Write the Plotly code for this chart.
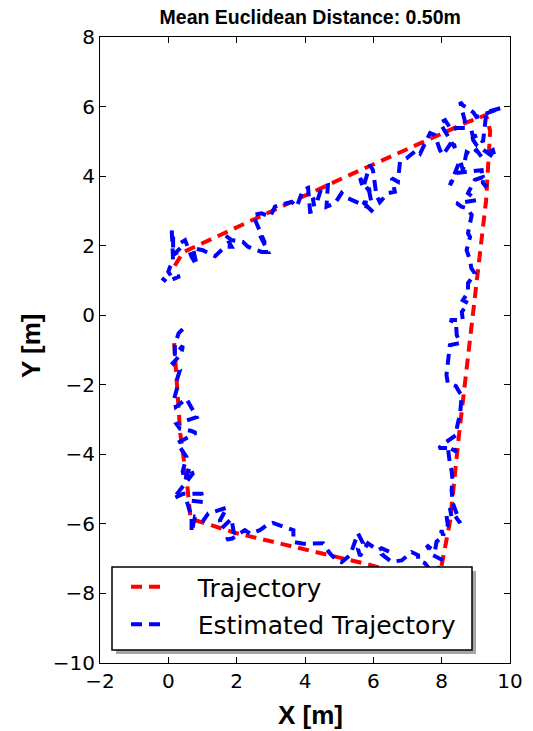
import plotly.graph_objects as go

# Ground-truth trajectory (m)
traj_x = [0.17, 0.35, 0.55, 0.65, 2.0, 4.0, 5.7, 7.9, 8.0, 8.25, 8.5, 9.0, 9.3, 9.42, 9.3, 8.7, 5.1, 0.43, 0.08]
traj_y = [-0.8, -3.4, -4.85, -5.85, -6.27, -6.73, -7.13, -7.7, -7.2, -5.9, -3.5, 0.9, 3.3, 5.3, 5.76, 5.53, 3.94, 1.81, 1.25]

# Estimated trajectory (m)
est_x = [
    0.42, 0.30, 0.19, 0.19, 0.42, 0.39, 0.13, 0.34, 0.22, 0.25,
    0.17, 0.22, 0.53, 0.83, 0.24, 0.34, 0.68, 0.81, 0.26, 0.53,
    0.42, 0.49, 0.63, 0.71, 0.15, 0.44, 0.97, 1.02, 0.53, 0.68,
    0.68, 0.78, 1.02, 1.17, 1.46, 1.72, 1.51, 1.56, 1.85, 1.92,
    1.70, 1.87,
    2.24, 2.39, 2.68, 2.88, 3.06, 3.36, 3.66, 3.66, 3.95, 4.53,
    4.73, 4.93, 5.07, 5.32, 5.55, 5.70, 5.55, 5.61, 5.84, 6.14,
    6.24, 6.49, 6.28, 6.53, 6.83, 7.07, 7.12, 7.31, 7.31, 7.51,
    7.80, 8.04, 7.75, 7.56, 7.80, 7.85, 7.95, 8.00, 8.04, 8.18,
    8.14, 8.29, 8.24, 8.54, 8.48, 8.33, 8.29,
    8.32, 8.29, 8.24, 8.18, 8.45, 8.32, 7.92, 8.14, 8.42, 8.45,
    8.54, 8.59, 8.51, 8.42, 8.18, 8.14, 8.18, 8.24, 8.54, 8.44,
    8.42, 8.24, 8.62, 8.59, 8.77, 8.62, 8.77, 8.77, 8.97, 8.87,
    8.83, 8.73, 8.83, 8.77, 8.88, 8.73, 8.58, 8.44, 9.02, 8.77,
    8.97, 9.21,
    9.31, 9.21, 9.17, 8.44, 8.24, 8.54, 8.62, 8.73, 8.88, 9.02,
    9.17, 9.50, 9.56, 9.02, 8.92, 8.87, 8.92, 9.06, 9.21, 9.31,
    9.75, 9.02, 8.92, 8.62, 8.54, 8.73, 8.44, 8.29, 8.10, 7.95,
    8.14, 8.39, 8.33, 8.04, 7.95, 7.80, 7.66, 7.37, 7.27, 6.97,
    6.78, 6.72, 6.54, 6.63, 6.43, 6.19, 6.09, 5.99, 5.90, 5.70,
    5.61, 5.90, 5.84, 5.95, 5.70, 5.99, 5.84, 5.17, 5.07, 4.88,
    4.63, 4.67, 4.49, 4.34, 4.23, 4.29, 4.15, 4.09, 3.94, 3.76,
    3.61, 3.27, 3.12, 2.98, 2.88, 2.73, 2.48, 2.83, 2.68, 2.92,
    2.73, 2.33, 2.18, 1.85, 1.66, 1.85, 1.66, 1.37, 1.16, 1.01,
    0.72, 0.83, 0.68, 0.49, 0.34, 0.39, 0.24, 0.24, 0.14, 0.14,
    0.10, 0.14, 0.05, 0.00, 0.10, 0.34, -0.05, -0.19,
]
est_y = [
    -0.40, -0.52, -0.86, -1.16, -0.88, -1.10, -1.38, -1.58, -1.95, -2.12,
    -2.40, -2.64, -2.40, -2.93, -3.13, -3.26, -3.33, -3.38, -3.68, -4.07,
    -4.50, -4.75, -4.36, -4.56, -5.27, -5.13, -5.13, -5.37, -5.32, -5.80,
    -6.24, -5.80, -5.91, -5.70, -5.61, -5.53, -5.90, -6.13, -5.85, -6.28,
    -6.45, -6.42,
    -6.18, -6.28, -6.18, -6.04, -5.97, -6.09, -6.18, -6.52, -6.57, -6.56,
    -6.85, -7.05, -7.10, -6.90, -6.27, -6.56, -6.72, -6.92, -6.56, -6.76,
    -6.70, -6.81, -6.90, -7.09, -7.05, -6.85, -6.81, -6.90, -7.05, -7.13,
    -7.50, -7.05, -6.90, -6.61, -6.80, -6.51, -6.43, -6.18, -6.33, -6.04,
    -5.75, -5.80, -5.55, -5.98, -5.80, -5.41, -5.03,
    -4.74, -4.46, -4.26, -3.79, -3.93, -3.82, -3.82, -3.64, -3.45, -3.22,
    -2.82, -2.30, -2.20, -2.04, -1.95, -1.72, -1.35, -0.86, -0.80, -0.57,
    -0.22, -0.14, -0.14, 0.09, 0.35, 0.43, 0.66, 0.92, 1.20, 1.35,
    1.58, 1.87, 2.25, 2.36, 2.88, 3.08, 3.12, 3.22, 3.31, 3.51,
    3.89, 3.97,
    3.68, 3.80, 4.17, 4.09, 3.74, 4.46, 4.17, 4.69, 4.61, 4.75,
    4.55, 4.75, 4.52, 4.89, 5.04, 5.32, 5.12, 5.18, 4.98, 5.84,
    5.96, 5.70, 5.84, 6.04, 6.13, 5.38, 5.38, 5.32, 5.61, 5.53,
    5.24, 4.81, 5.04, 4.61, 4.75, 5.18, 5.24, 4.65, 4.75, 4.51,
    4.41, 3.84, 3.94, 3.55, 3.51, 3.25, 3.45, 4.17, 4.32, 3.66,
    3.94, 3.54, 3.74, 3.22, 3.25, 2.97, 3.11, 3.40, 3.51, 3.22,
    3.12, 3.74, 3.69, 3.22, 3.37, 3.00, 2.97, 3.66, 3.60, 3.12,
    3.26, 3.17, 3.12, 2.83, 2.88, 2.93, 2.88, 2.07, 2.30, 1.82,
    1.82, 1.97, 2.11, 2.16, 2.30, 1.97, 1.97, 1.70, 1.79, 1.87,
    1.93, 1.44, 1.68, 2.16, 2.07, 1.97, 1.82, 1.79, 1.73, 2.30,
    2.45, 1.54, 1.39, 1.25, 1.10, 1.12, 0.96, 1.07,
]

mean_dist = 0.50
x_ticks = [-2, 0, 2, 4, 6, 8, 10]
y_ticks = [-10, -8, -6, -4, -2, 0, 2, 4, 6, 8]

DASH = "11px,7px"
TICK_FONT = dict(family="DejaVu Sans", size=20, color="black")
LABEL_FONT = dict(family="Liberation Sans, Arial", size=26, color="black")
PAD = "\u00a0" * 4  # gap between legend sample and label

fig = go.Figure()
fig.add_trace(go.Scatter(
    x=traj_x, y=traj_y, mode="lines", name=PAD + "Trajectory",
    line=dict(color="#ff0000", width=4, dash=DASH), legendgroup="a",
))
fig.add_trace(go.Scatter(
    x=est_x, y=est_y, mode="lines", name=PAD + "Estimated Trajectory",
    line=dict(color="#0000ff", width=4, dash=DASH), legendgroup="b",
))

# plot area in pixels: x 100..510, y 37..663
L, R, T, B = 100, 510, 37, 663


def px(xp):
    return (xp - L) / (R - L)


def py(yp):
    return (B - yp) / (B - T)


# legend frame with drop shadow
box = (112, 567, 472, 650)
shadow_off = 4
shapes = [
    dict(type="rect", xref="paper", yref="paper", layer="above",
         x0=px(box[0] + shadow_off), x1=px(box[2] + shadow_off),
         y0=py(box[3] + shadow_off), y1=py(box[1] + shadow_off),
         fillcolor="#a6a6a6", line=dict(width=0)),
    dict(type="rect", xref="paper", yref="paper", layer="above",
         x0=px(box[0]), x1=px(box[2]), y0=py(box[3]), y1=py(box[1]),
         fillcolor="white", line=dict(color="black", width=1.5)),
]

# axis titles
annotations = [
    dict(text="<b>X [m]</b>", xref="paper", yref="paper",
         x=px(310), y=py(715), xanchor="center", yanchor="middle",
         showarrow=False, font=LABEL_FONT),
    dict(text="<b>Y [m]</b>", xref="paper", yref="paper",
         x=px(31), y=py(346), xanchor="center", yanchor="middle",
         showarrow=False, font=LABEL_FONT, textangle=-90),
]

axis_common = dict(
    showgrid=False, zeroline=False, showline=True, linecolor="black",
    linewidth=1.2, mirror="ticks", ticks="inside", ticklen=6,
    tickcolor="black", tickwidth=1, tickfont=TICK_FONT, automargin=False,
)

fig.update_layout(
    width=533, height=731, autosize=False,
    margin=dict(l=L, r=533 - R, t=T, b=731 - B, pad=0),
    paper_bgcolor="white", plot_bgcolor="white",
    title=dict(
        text=f"<b>Mean Euclidean Distance: {mean_dist:.2f}m</b>",
        font=dict(family="Liberation Sans, Arial", size=19.5, color="black"),
        x=0.582, xanchor="center", y=0.977, yanchor="middle",
    ),
    xaxis=dict(range=[-2, 10], tickvals=x_ticks, **axis_common),
    yaxis=dict(range=[-10, 8], tickvals=y_ticks, **axis_common),
    legend=dict(
        x=px(126), y=py(564), xanchor="left", yanchor="top",
        bgcolor="rgba(0,0,0,0)", borderwidth=0,
        font=dict(family="DejaVu Sans", size=25, color="black"),
        itemwidth=30, tracegroupgap=2, traceorder="grouped",
    ),
    shapes=shapes,
    annotations=annotations,
)

fig.write_html("out.html")
